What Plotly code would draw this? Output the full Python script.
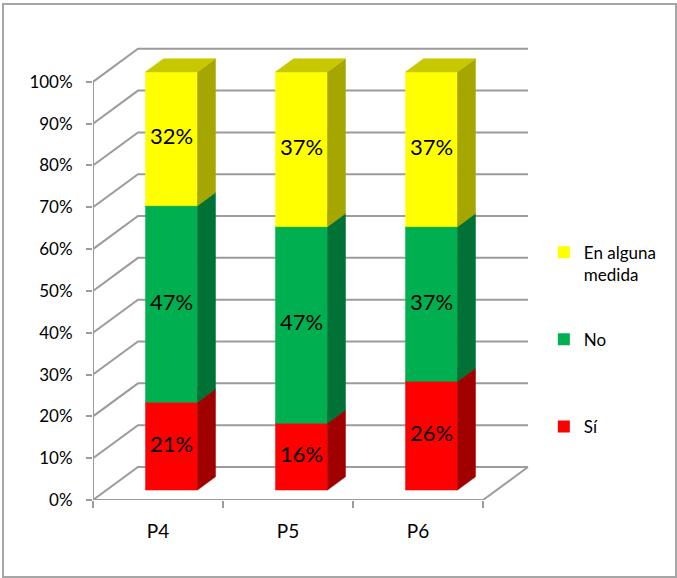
import plotly.graph_objects as go

# ---------------- data ----------------
categories = ["P4", "P5", "P6"]
si_values = [21, 16, 26]
no_values = [47, 47, 37]
alguna_values = [32, 37, 37]
y_tick_values = [0, 10, 20, 30, 40, 50, 60, 70, 80, 90, 100]
y_tick_labels = [f"{v}%" for v in y_tick_values]

series = [
    # name, values, front, side, top
    ("Sí", si_values, "#FF0000", "#A00000", "#C80000"),
    ("No", no_values, "#00B050", "#007236", "#009040"),
    ("En alguna medida", alguna_values, "#FFFF00", "#A6A600", "#C8C800"),
]
legend_labels = {"En alguna medida": "En alguna<br>medida", "No": "No<br> ", "Sí": "Sí<br> "}

# ---------------- 3-D geometry (in data units) ----------------
DX, DY = 0.346, 7.9          # depth vector of the chart box
BAR_W = 0.4                  # bar front width (category units)
D0, D1 = 0.3, 0.7            # bar depth span as fraction of box depth
GRID_COLOR = "#9C9C9C"
n = len(categories)

fig = go.Figure()

# back wall + left wall gridlines
for v in y_tick_values:
    fig.add_trace(go.Scatter(
        x=[0, DX, n + DX], y=[v, v + DY, v + DY], mode="lines",
        line=dict(color=GRID_COLOR, width=2), hoverinfo="skip", showlegend=False))
# floor front and right edges, front vertical axis
fig.add_trace(go.Scatter(
    x=[0, n, n + DX], y=[0, 0, DY], mode="lines",
    line=dict(color=GRID_COLOR, width=2), hoverinfo="skip", showlegend=False))
fig.add_trace(go.Scatter(
    x=[0, 0], y=[0, y_tick_values[-1]], mode="lines",
    line=dict(color=GRID_COLOR, width=2), hoverinfo="skip", showlegend=False))

# bars
dx = (D1 - D0) * DX
dy = (D1 - D0) * DY
lab_x, lab_y, lab_t = [], [], []
for i in range(n):
    base = 0
    xl = i + 0.5 - BAR_W / 2 + D0 * DX
    xr = xl + BAR_W
    for name, vals, cf, cs, ct in series:
        val = vals[i]
        y0 = base + D0 * DY
        y1 = base + val + D0 * DY
        polys = [
            ([xl, xr, xr, xl, xl], [y0, y0, y1, y1, y0], cf),
            ([xr, xr + dx, xr + dx, xr, xr], [y0, y0 + dy, y1 + dy, y1, y0], cs),
            ([xl, xr, xr + dx, xl + dx, xl], [y1, y1, y1 + dy, y1 + dy, y1], ct),
        ]
        for px, py, c in polys:
            fig.add_trace(go.Scatter(
                x=px, y=py, mode="lines", fill="toself", fillcolor=c,
                line=dict(color=c, width=0.5), hoverinfo="skip", showlegend=False))
        lab_x.append(i + 0.5 + D0 * DX)
        lab_y.append(base + val / 2 + D0 * DY)
        lab_t.append(f"{val}%")
        base += val

fig.add_trace(go.Scatter(
    x=lab_x, y=lab_y, text=lab_t, mode="text", xaxis="x2",
    textfont=dict(size=22, color="black"), hoverinfo="skip", showlegend=False))

# legend entries
for k, (name, vals, cf, cs, ct) in enumerate(reversed(series)):
    fig.add_trace(go.Scatter(
        x=[None], y=[None], mode="markers", name=legend_labels[name],
        legendgroup=f"g{k}", marker=dict(symbol="square", size=12, color=cf)))

fig.update_layout(
    width=677, height=578,
    margin=dict(l=93, r=142, t=40, b=78),
    paper_bgcolor="white", plot_bgcolor="white",
    font=dict(family="Lato", color="black"),
    xaxis=dict(range=[0, 3.4], tickvals=[0, 1, 2, 3], ticktext=["", "", "", ""],
               ticks="outside", ticklen=7, tickwidth=2, tickcolor=GRID_COLOR,
               showgrid=False, zeroline=False, showline=False, fixedrange=True),
    xaxis2=dict(overlaying="x", matches="x", side="bottom", range=[0, 3.4],
                tickvals=[i + 0.5 for i in range(n)], ticktext=categories,
                ticks="", showgrid=False, zeroline=False, showline=False,
                tickfont=dict(size=19), ticklabelstandoff=18),
    yaxis=dict(range=[0, 110], tickvals=y_tick_values, ticktext=y_tick_labels,
               ticks="outside", ticklen=6, tickwidth=2, tickcolor=GRID_COLOR,
               tickfont=dict(size=17), ticklabelstandoff=10,
               showgrid=False, zeroline=False, showline=False),
    legend=dict(x=1.02, y=0.577, xanchor="left", yanchor="top",
                font=dict(size=17), tracegroupgap=40, valign="top",
                bgcolor="rgba(0,0,0,0)"),
    shapes=[dict(type="rect", xref="paper", yref="paper",
                 x0=(3 - 93) / 442, x1=(676 - 93) / 442,
                 y0=(78 - 1) / 460 * -1, y1=1 + (40 - 4) / 460,
                 line=dict(color="#A6A6A6", width=2), fillcolor="rgba(0,0,0,0)",
                 layer="below")],
)

fig.write_html("out.html")
